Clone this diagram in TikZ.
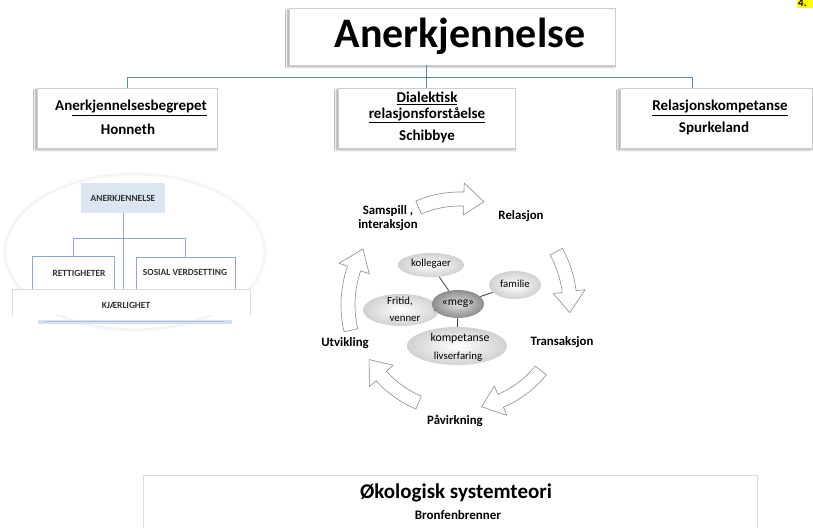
\documentclass[tikz,border=0pt]{standalone}
\usepackage{fontspec}
\setmainfont{Carlito}
\usetikzlibrary{shadows.blur,shapes.geometric}
\definecolor{linkblue}{RGB}{96,136,176}
\definecolor{paleblue}{RGB}{220,230,242}
\definecolor{boxblue}{RGB}{140,168,202}
\definecolor{frame}{RGB}{205,205,205}
\definecolor{ecoframe}{RGB}{212,220,232}
\definecolor{hl}{RGB}{255,255,0}
\tikzset{
  topbox/.style={draw=frame, fill=white, line width=0.6pt, inner sep=0pt,
    blur shadow={shadow xshift=-1.5pt, shadow yshift=-2pt, shadow blur steps=6, shadow opacity=35}},
  link/.style={draw=linkblue, line width=0.7pt},
  headtext/.style={font=\bfseries\fontsize{15}{17}\selectfont, align=center, inner sep=0pt},
  capsbox/.style={draw=boxblue, fill=white, line width=0.8pt, inner sep=0pt},
  capstext/.style={font=\bfseries\fontsize{9.4}{11}\selectfont, text=black!80, inner sep=0pt},
  blockarrow/.style={draw=black!45, fill=white, line width=0.6pt, line join=round},
  cyclabel/.style={font=\bfseries\fontsize{12.8}{14}\selectfont, align=center, inner sep=0pt},
  bubble/.style={ellipse, shading=radial, inner color=white, outer color=black!18, inner sep=0pt},
  bubtext/.style={font=\fontsize{10.8}{12}\selectfont, inner sep=0pt},
  spoke/.style={draw=black!75, line width=0.8pt}
}
% curved block arrow around the cycle centre: start angle, end angle, radius
\newcommand\cycarrow[3]{%
  \pgfmathsetmacro\headbase{#2+11}%
  \draw[blockarrow] ({#1}:{#3+7}) arc[start angle=#1, end angle=\headbase, radius=#3+7]
    -- ({\headbase}:{#3+16}) -- ({#2}:{#3}) -- ({\headbase}:{#3-16}) -- ({\headbase}:{#3-7})
    arc[start angle=\headbase, end angle=#1, radius=#3-7] -- cycle;}
\begin{document}
\begin{tikzpicture}[x=1pt,y=1pt]
\useasboundingbox (0,0) rectangle (813,527);
\fill[white] (0,0) rectangle (813,527);

% corner page marker
\fill[hl] (797,519) rectangle (813,527);
\node[anchor=base west, font=\bfseries\fontsize{11}{12}\selectfont, inner sep=0pt] (mark) at (798,520) {4.};

% title
\node[topbox, minimum width=326, minimum height=57] (title) at (452,490.5) {};
\node[font=\bfseries\fontsize{42}{44}\selectfont, inner sep=0pt] (titletext) at (460,491) {Anerkjennelse};

% three theory boxes
\node[topbox, minimum width=180, minimum height=60] (box1) at (127,409) {};
\node[topbox, minimum width=177, minimum height=60] (box2) at (426.5,409) {};
\node[topbox, minimum width=192, minimum height=60] (box3) at (716,409) {};
\coordinate (b3top) at (692,439);

\node[headtext] (t1a) at (131,419) {An\underline{erkjennelsesbegrepet}};
\node[headtext] (t1b) at (128,398) {Honneth};
\node[headtext] (t2a) at (427,429) {\underline{Dialektisk}};
\node[headtext] (t2b) at (427,412) {\underline{relasjonsforståelse}};
\node[headtext] (t2c) at (427,391) {Schibbye};
\node[headtext] (t3a) at (720,419) {\underline{Relasjonskompetanse}};
\node[headtext] (t3b) at (714,399) {Spurkeland};

% tree connectors
\draw[link] (box1.north) |- (b3top |- 0,450) -- (b3top);
\draw[link] (title.south -| box2.north) -- (box2.north);

% recognition model, left
\draw[black!4, line width=3pt] (135,275) ellipse[x radius=130, y radius=78];
\node[fill=paleblue, minimum width=84, minimum height=30, inner sep=0pt] (anerk) at (123,329) {};
\node[capstext] (anerktext) at (123,329) {ANERKJENNELSE};
\node[capsbox, minimum width=82, minimum height=33] (rett) at (73,254.5) {};
\node[capstext] (retttext) at (79,254) {RETTIGHETER};
\node[capsbox, minimum width=99, minimum height=32] (sosial) at (185.5,254) {};
\node[capstext] (sosialtext) at (185,255) {SOSIAL VERDSETTING};
\draw[black!14, line width=0.6pt, fill=white] (12,212) -- (12,238) -- (250,238) -- (250,212);
\draw[linkblue!25, line width=4pt] (38,205) -- (232,205);
\draw[linkblue!50, line width=1.5pt] (45,205.5) -- (225,205.5);
\node[capstext] (kjaer) at (126,222) {KJÆRLIGHET};
\coordinate (bandtop) at (123,238);
\draw[link, draw=boxblue] (anerk.south) -- (bandtop);
\draw[link, draw=boxblue] (rett.north) -- ++(0,17) -| (sosial.north);

% interaction cycle
\begin{scope}[shift={(460,222)}]
\cycarrow{113}{77}{106}
\cycarrow{29}{-4}{110}
\cycarrow{-39}{-78}{104}
\cycarrow{-113}{-149}{106}
\cycarrow{193}{150}{112}
\end{scope}

\node[cyclabel] (samspill) at (388,316) {Samspill ,};
\node[cyclabel] (inter) at (388,302) {interaksjon};
\node[cyclabel] (relasjon) at (521,311) {Relasjon};
\node[cyclabel] (trans) at (562,185) {Transaksjon};
\node[cyclabel] (pavirk) at (455,106) {Påvirkning};
\node[cyclabel] (utvik) at (345,184) {Utvikling};

% the person and its contexts
\node[bubble, minimum width=100, minimum height=38] (komp) at (457,181) {};
\node[bubble, minimum width=76, minimum height=32] (fritid) at (401,217) {};
\node[bubble, minimum width=66, minimum height=24] (koll) at (431,262) {};
\node[bubble, minimum width=52, minimum height=28] (fam) at (515,242) {};
\draw[spoke] (fritid.east) ++(-5,0) -- ++(6,0);
\node[ellipse, shading=radial, inner color=black!12, outer color=black!45, minimum width=52, minimum height=28, inner sep=0pt] (meg) at (458,223) {};
\draw[spoke] (koll) -- (meg);
\draw[spoke] (fam) -- (meg);
\draw[spoke] (meg) -- (komp);

\node[bubtext] (kolltext) at (431,263) {kollegaer};
\node[bubtext] (famtext) at (515,243) {familie};
\node[bubtext] (fritid1) at (400,226) {Fritid,};
\node[bubtext] (fritid2) at (405,208) {venner};
\node[bubtext, font=\fontsize{11.5}{13}\selectfont] (megtext) at (458,223) {«meg»};
\node[bubtext, font=\fontsize{11.8}{13}\selectfont] (komp1) at (460,189) {kompetanse};
\node[bubtext] (komp2) at (458,170) {livserfaring};

% ecological systems theory
\node[draw=ecoframe, fill=white, line width=1pt, minimum width=614, minimum height=59, inner sep=0pt] (eco) at (450,21.5) {};
\node[font=\bfseries\fontsize{21}{24}\selectfont, inner sep=0pt] (ecotitle) at (456,34) {Økologisk systemteori};
\node[font=\bfseries\fontsize{13}{15}\selectfont, inner sep=0pt] (ecoauthor) at (458,12) {Bronfenbrenner};
\end{tikzpicture}
\end{document}
